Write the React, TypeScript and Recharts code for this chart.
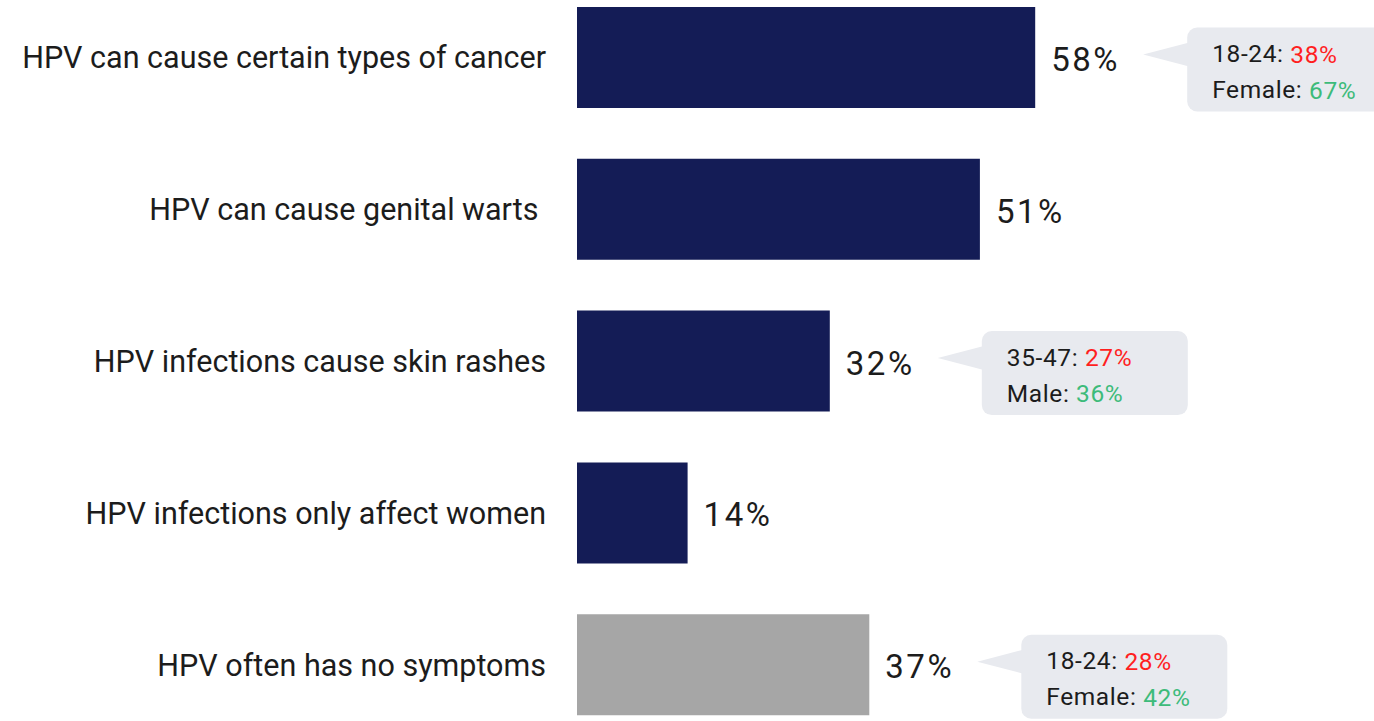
import React from "react";
import { BarChart, Bar, XAxis, YAxis, Cell, LabelList } from "recharts";

const categories = [
  "HPV can cause certain types of cancer",
  "HPV can cause genital warts ",
  "HPV infections cause skin rashes",
  "HPV infections only affect women",
  "HPV often has no symptoms",
];
const values = [58, 51, 32, 14, 37];
const barColors = ["#141C56", "#141C56", "#141C56", "#141C56", "#A6A6A6"];
const ageLabels = ["18-24", null, "35-47", null, "18-24"];
const ageValues = [38, null, 27, null, 28];
const genderLabels = ["Female", null, "Male", null, "Female"];
const genderValues = [67, null, 36, null, 42];

const data = categories.map((name, i) => ({ name, value: values[i] }));

const FONT = "Roboto, 'Noto Sans', sans-serif";
const TEXT = "#1c1c1c";
const RED = "#FF1F1F";
const GREEN = "#3DBB7A";
const BOX = "#E8EAEF";

const CategoryTick = (props: any) => {
  const { x, y, payload } = props;
  return (
    <text
      x={x}
      y={y}
      textAnchor="end"
      dominantBaseline="central"
      fontFamily={FONT}
      fontSize={30.5}
      fill={TEXT}
      style={{ whiteSpace: "pre" }}
    >
      {payload.value}
    </text>
  );
};

const ValueLabel = (props: any) => {
  const { x, y, width, height, value, index } = props;
  const end = Number(x) + Number(width);
  const cy = Number(y) + Number(height) / 2;
  const hasCallout = ageLabels[index] != null;
  const boxX = end + 152;
  const boxY = cy - 30;
  const tipX = end + 108;
  return (
    <g>
      <text
        x={end + 16}
        y={cy + 2}
        dominantBaseline="central"
        fontFamily={FONT}
        fontSize={33}
        letterSpacing={2.5}
        fill={TEXT}
      >
        {value}%
      </text>
      {hasCallout && (
        <g>
          <polygon
            points={`${tipX},${cy - 3} ${boxX + 2},${cy - 15} ${boxX + 2},${cy + 9}`}
            fill={BOX}
          />
          <rect x={boxX} y={boxY} width={206} height={84} rx={10} ry={10} fill={BOX} />
          <text
            x={boxX + 25}
            y={boxY + 26}
            dominantBaseline="central"
            fontFamily={FONT}
            fontSize={24.5}
            letterSpacing={0.6}
            fill={TEXT}
          >
            {ageLabels[index]}:{" "}
            <tspan fill={RED}>{ageValues[index]}%</tspan>
          </text>
          <text
            x={boxX + 25}
            y={boxY + 62}
            dominantBaseline="central"
            fontFamily={FONT}
            fontSize={24.5}
            letterSpacing={0.6}
            fill={TEXT}
          >
            {genderLabels[index]}:{" "}
            <tspan fill={GREEN}>{genderValues[index]}%</tspan>
          </text>
        </g>
      )}
    </g>
  );
};

export default function App() {
  return (
    <div
      style={{
        position: "absolute",
        left: 0,
        top: 0,
        width: 1374,
        height: 721,
        overflow: "hidden",
        background: "#ffffff",
      }}
    >
      <BarChart
        width={1374}
        height={721}
        data={data}
        layout="vertical"
        margin={{ top: -18, right: 7, bottom: -20, left: 0 }}
        barCategoryGap={0}
      >
        <XAxis type="number" domain={[0, 100]} hide />
        <YAxis
          type="category"
          dataKey="name"
          width={577}
          axisLine={false}
          tickLine={false}
          tickSize={0}
          tickMargin={31}
          interval={0}
          tick={<CategoryTick />}
        />
        <Bar dataKey="value" barSize={101} isAnimationActive={false}>
          {data.map((d, i) => (
            <Cell key={d.name} fill={barColors[i]} />
          ))}
          <LabelList dataKey="value" content={<ValueLabel />} />
        </Bar>
      </BarChart>
    </div>
  );
}
